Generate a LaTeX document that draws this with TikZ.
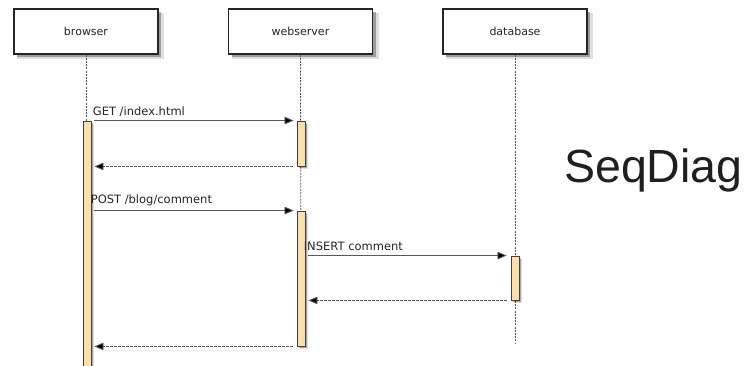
\documentclass[tikz,border=0pt]{standalone}
\usepackage{fontspec}
\setmainfont{Liberation Sans}
\newfontfamily\lblfont{DejaVu Sans}
\usetikzlibrary{arrows.meta,shadows,calc}
\definecolor{actbar}{HTML}{FCE0AC}
\definecolor{lineg}{HTML}{555555}
\definecolor{txt}{HTML}{262626}
\tikzset{
  actor/.style={draw=black!85, line width=1.1pt, fill=white, minimum width=144pt, minimum height=45pt,
    inner sep=0pt, font=\lblfont\fontsize{11}{12}\selectfont, text=txt,
    drop shadow={shadow xshift=4.5pt, shadow yshift=-4.5pt, fill=black, opacity=0.12, shadow scale=1.02},
    drop shadow={shadow xshift=3pt, shadow yshift=-3pt, fill=black, opacity=0.3}},
  actbox/.style={draw=black!75, line width=0.9pt, fill=actbar, minimum width=8pt, inner sep=0pt,
    drop shadow={shadow xshift=3pt, shadow yshift=-3pt, fill=black, opacity=0.12},
    drop shadow={shadow xshift=2pt, shadow yshift=-2pt, fill=black, opacity=0.25}},
  lifeline/.style={draw=lineg, line width=0.8pt, dash pattern=on 2pt off 1.2pt},
  msg/.style={draw=black!65, line width=0.8pt, -{Triangle[length=9pt,width=7.5pt,fill=black]}},
  ret/.style={msg, dash pattern=on 2.5pt off 1.5pt},
  lbl/.style={font=\lblfont\fontsize{11.5}{13}\selectfont, text=txt, inner sep=0pt, anchor=south west}
}
\begin{document}
\begin{tikzpicture}[x=1pt,y=-1pt]
\useasboundingbox[fill=white] (0,0) rectangle (748,366);
% actors
\node[actor] (browser) at (86,31.5) {browser};
\node[actor] (webserver) at (300.5,31.5) {webserver};
\node[actor] (database) at (515,31.5) {database};
% lifeline ends
\coordinate (bend) at (86,370);
\coordinate (wend) at (301,346);
\coordinate (dend) at (515,343);
\draw[lifeline] (browser.south) -- (bend);
\draw[lifeline] (webserver.south) -- (wend);
\draw[lifeline] (database.south) -- (dend);
% activation bars
\node[actbox, minimum height=249pt] (bb) at (87,245.5) {};
\node[actbox, minimum height=45pt] (ws1) at (301,143.5) {};
\node[actbox, minimum height=135pt] (ws2) at (301,278.5) {};
\node[actbox, minimum height=44pt] (db1) at (515,278) {};
% messages
\draw[msg, shorten <=3pt, shorten >=3pt] (bb.east |- ws1.north) -- (ws1.north west)
  node[lbl, pos=0, xshift=1pt, yshift=4pt] {GET /index.html};
\draw[ret, shorten <=4pt, shorten >=3pt] (ws1.south west) -- (bb.east |- ws1.south);
\draw[msg, shorten <=3pt, shorten >=3pt] (bb.east |- ws2.north) -- (ws2.north west)
  node[lbl, pos=0, xshift=-1pt, yshift=4pt] {POST /blog/comment};
\draw[msg, shorten <=3pt, shorten >=4pt] (ws2.east |- db1.north) -- (db1.north west)
  node[lbl, pos=0, xshift=-2pt, yshift=4pt] {INSERT comment};
\draw[ret, shorten <=4pt, shorten >=3pt] (db1.south west) -- (ws2.east |- db1.south);
\draw[ret, shorten <=4pt, shorten >=3pt] (ws2.south west) -- (bb.east |- ws2.south);
% title
\node[anchor=base west, inner sep=0pt, font=\fontsize{46.5}{50}\selectfont, text=black!88] (title) at (564,183) {SeqDiag};
\end{tikzpicture}
\end{document}
